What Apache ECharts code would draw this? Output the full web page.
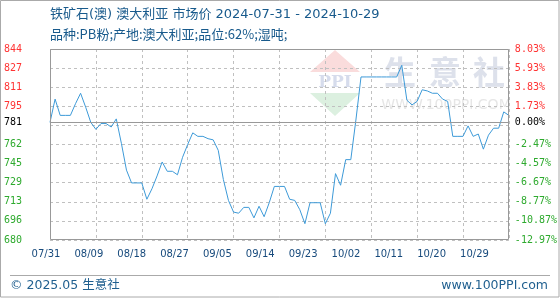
<!DOCTYPE html>
<html><head><meta charset="utf-8">
<script src="https://cdn.jsdelivr.net/npm/echarts@6/dist/echarts.min.js"></script>
<style>html,body{margin:0;padding:0;background:#fff}#c{width:560px;height:300px}</style>
</head><body><div id="c"></div>
<script>
// ---- data ----
const startDate = '2024-07-31';
const dayCount = 91;
const prices = [
  781, 801, 787, 787, 787, 797, 806, 794, 781, 775,
  780, 780, 777, 784, 763, 740, 729, 729, 729, 715,
  724, 735, 747, 739, 739, 736, 751, 762, 772, 769,
  769, 767, 766, 757, 732, 714, 704, 703, 708, 708,
  699, 709, 700, 712, 726, 726, 726, 715, 714, 706,
  694, 712, 712, 712, 694, 703, 737, 727, 749, 749,
  783, 820, 820, 820, 820, 820, 820, 820, 820, 830,
  800, 796, 799, 809, 808, 806, 806, 801, 799, 769,
  769, 769, 778, 769, 771, 758, 770, 776, 776, 790,
  787
];
const baseValue = 781;
const yMin = 680, yMax = 844, yStep = 16.4;
const xTickLabels = ['07/31','08/09','08/18','08/27','09/05','09/14','09/23','10/02','10/11','10/20','10/29'];
const leftLabelValues = [680, 696.4, 712.8, 729.2, 745.6, 762, 781, 794.8, 811.2, 827.6, 844];
const leftLabelTexts = ['680','696','713','729','745','762','781','795','811','827','844'];
const rightLabelTexts = ['-12.97%','-10.87%','-8.77%','-6.67%','-4.57%','-2.47%','0.00%','1.73%','3.83%','5.93%','8.03%'];
const titleLine1 = '铁矿石(澳) 澳大利亚 市场价 2024-07-31 - 2024-10-29';
const titleLine2 = '品种:PB粉;产地:澳大利亚;品位:62%;湿吨;';
const footerLeft = '© 2025.05 生意社';
const footerRight = 'www.100PPI.com';

// ---- build ----
const dates = [];
{
  const d0 = new Date(startDate + 'T00:00:00Z');
  for (let i = 0; i < dayCount; i++) {
    const d = new Date(d0.getTime() + i * 86400000);
    dates.push(String(d.getUTCMonth() + 1).padStart(2, '0') + '/' + String(d.getUTCDate()).padStart(2, '0'));
  }
}
function nearestIdx(v) {
  let best = 0;
  for (let i = 1; i < leftLabelValues.length; i++) {
    if (Math.abs(leftLabelValues[i] - v) < Math.abs(leftLabelValues[best] - v)) best = i;
  }
  return best;
}
function cls(i) {
  const v = leftLabelValues[i];
  return v > baseValue ? 'r' : (v < baseValue ? 'g' : 'k');
}
const monoFont = 'DejaVu Sans Mono';
const rich = {
  r: { color: '#ff3333', fontFamily: monoFont, fontSize: 10 },
  g: { color: '#2eaa2e', fontFamily: monoFont, fontSize: 10 },
  k: { color: '#000000', fontFamily: monoFont, fontSize: 10 }
};
const gridLineStyle = { color: '#c0c0c0', type: [3, 3], width: 1 };

const chart = echarts.init(document.getElementById('c'), null, { renderer: 'canvas' });
const option = {
  animation: false,
  grid: [
    { left: 50, right: 51, top: 49, bottom: 60, show: false },
    { left: 46, right: 85.5, top: 49, bottom: 60, show: false }
  ],
  xAxis: [
    {
      type: 'category', gridIndex: 0, data: dates, boundaryGap: false,
      axisLine: { show: false },
      axisTick: { show: false },
      axisLabel: { show: false },
      splitLine: { show: true, interval: 8, lineStyle: gridLineStyle }
    },
    {
      type: 'category', gridIndex: 1, data: xTickLabels, boundaryGap: false,
      axisLine: { show: false }, axisTick: { show: false }, splitLine: { show: false },
      axisLabel: { show: true, interval: 0, margin: 9, color: '#174a7c', fontFamily: 'DejaVu Sans', fontSize: 10 }
    }
  ],
  yAxis: [
    {
      type: 'value', gridIndex: 0, min: yMin, max: yMax, interval: yStep, position: 'left',
      axisLine: { show: false },
      axisTick: { show: false },
      splitLine: { show: true, lineStyle: gridLineStyle },
      axisLabel: {
        show: true, margin: 28, customValues: leftLabelValues, rich: rich,
        fontFamily: monoFont, fontSize: 10,
        formatter: function (v) { const i = nearestIdx(v); return '{' + cls(i) + '|' + leftLabelTexts[i] + '}'; }
      }
    },
    {
      type: 'value', gridIndex: 0, min: yMin, max: yMax, interval: yStep, position: 'right',
      axisLine: { show: false }, axisTick: { show: false }, splitLine: { show: false },
      axisLabel: {
        show: true, margin: 6, customValues: leftLabelValues, rich: rich,
        fontFamily: monoFont, fontSize: 10,
        formatter: function (v) { const i = nearestIdx(v); return '{' + cls(i) + '|' + rightLabelTexts[i] + '}'; }
      }
    },
    { type: 'value', gridIndex: 1, show: false }
  ],
  series: [
    {
      type: 'line', xAxisIndex: 0, yAxisIndex: 0, data: prices,
      symbol: 'none', smooth: false,
      lineStyle: { color: '#3d9ad8', width: 1 },
      itemStyle: { color: '#3d9ad8' },
      z: 3,
      markLine: {
        silent: true, symbol: 'none', label: { show: false },
        lineStyle: { color: '#999', type: 'solid', width: 1 },
        data: [{ yAxis: baseValue }]
      }
    }
  ],
  graphic: [
    { type: 'polygon', z: -10, shape: { points: [[310, 72], [335, 50], [360, 72]] }, style: { fill: '#fadcdc' } },
    { type: 'polygon', z: -10, shape: { points: [[310, 93], [360, 93], [335, 116]] }, style: { fill: '#dcf0e0' } },
    { type: 'text', z: -10, style: { x: 335, y: 83, text: 'PPI', align: 'center', verticalAlign: 'middle', font: 'bold 17px "DejaVu Serif"', fill: '#d6dcec' } },
    { type: 'text', z: -10, style: { x: 400, y: 72, text: '生', align: 'center', verticalAlign: 'middle', font: 'bold 32px "Noto Sans CJK SC"', fill: '#dde1eb' } },
    { type: 'text', z: -10, style: { x: 445, y: 72, text: '意', align: 'center', verticalAlign: 'middle', font: 'bold 32px "Noto Sans CJK SC"', fill: '#dde1eb' } },
    { type: 'text', z: -10, style: { x: 489, y: 72, text: '社', align: 'center', verticalAlign: 'middle', font: 'bold 32px "Noto Sans CJK SC"', fill: '#dde1eb' } },
    { type: 'text', z: -10, style: { x: 446, y: 105, text: 'WWW.100PPI.COM', align: 'center', verticalAlign: 'middle', font: '14px "DejaVu Sans"', fill: '#e6e6e6' } },
    { type: 'rect', z: 5, silent: true, shape: { x: 50.5, y: 49.5, width: 458, height: 190 }, style: { fill: 'none', stroke: '#999999', lineWidth: 1 } },
    { type: 'text', style: { x: 50, y: 15, text: titleLine1, verticalAlign: 'middle', font: '13px "DejaVu Sans", "Noto Sans CJK SC"', fill: '#185a8c' } },
    { type: 'text', style: { x: 50, y: 34, text: titleLine2, verticalAlign: 'middle', font: '13px "Noto Sans CJK SC"', fill: '#185a8c' } },
    { type: 'line', shape: { x1: 10, y1: 275.5, x2: 550, y2: 275.5 }, style: { stroke: '#aaaaaa', lineWidth: 1 } },
    { type: 'text', style: { x: 10, y: 286, text: footerLeft, verticalAlign: 'middle', font: '12.5px "DejaVu Sans", "Noto Sans CJK SC"', fill: '#1f5f8f' } },
    { type: 'text', style: { x: 548, y: 286, text: footerRight, align: 'right', verticalAlign: 'middle', font: '12.5px "DejaVu Sans"', fill: '#1f5f8f' } },
    { type: 'rect', shape: { x: 0.5, y: 0.5, width: 558.5, height: 296.5 }, style: { fill: 'none', stroke: '#aaaaaa', lineWidth: 1 } }
  ]
};
chart.setOption(option);
</script>
</body></html>
